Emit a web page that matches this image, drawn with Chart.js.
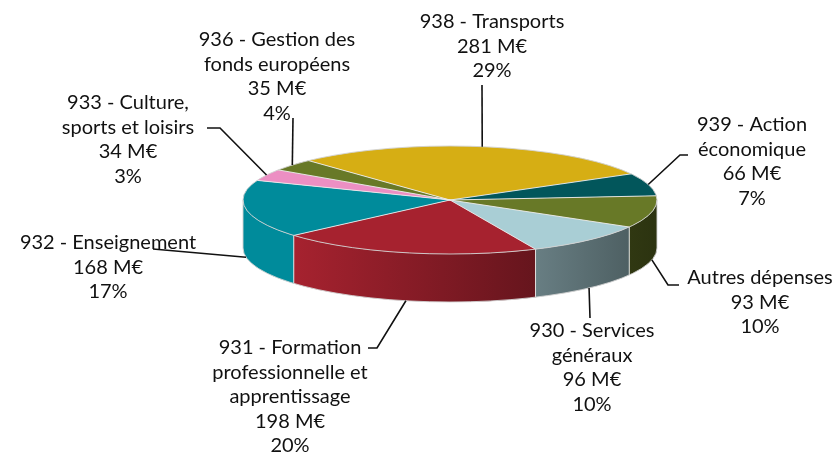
<!DOCTYPE html>
<html>
<head>
<meta charset="utf-8">
<script src="https://cdn.jsdelivr.net/npm/chart.js@4.4.1/dist/chart.umd.min.js"></script>
<style>
  html, body { margin: 0; padding: 0; background: #fff; }
  #wrap { width: 839px; height: 455px; }
</style>
</head>
<body>
<div id="wrap"><canvas id="pieCanvas"></canvas></div>
<script>
// data, clockwise from the "Services généraux" slice
const labelLines = [
    ['930 - Services', 'généraux'],
    ['931 - Formation', 'professionnelle et', 'apprentissage'],
    ['932 - Enseignement'],
    ['933 - Culture,', 'sports et loisirs'],
    ['936 - Gestion des', 'fonds européens'],
    ['938 - Transports'],
    ['939 - Action', 'économique'],
    ['Autres dépenses']
];
const dataPie = [96, 198, 168, 34, 35, 281, 66, 93];
const percentPie = ['10%', '20%', '17%', '3%', '4%', '29%', '7%', '10%'];
const colorPie = ['#a9ced5', '#a6222f', '#008b9b', '#ec8fc3', '#687927', '#d6ae14', '#02565b', '#687927'];

// where each label block sits and how its leader line bends
const labelLayout = [
    { x: 592, y: 331, bend: [[590, 318]] },
    { x: 290, y: 348, bend: [[377, 348], [368, 348]] },
    { x: 108, y: 243, bend: [[153, 249]] },
    { x: 128, y: 103, bend: [[220, 128], [207, 128]] },
    { x: 277, y: 40, bend: [[293, 118]] },
    { x: 492, y: 22, bend: [[482, 85]] },
    { x: 752, y: 125, bend: [[680, 155], [688, 155]] },
    { x: 760, y: 278, bend: [[668, 285], [679, 285]] }
];

// ellipse used for the tilted pie
const CX = 450, CY = 200, RX = 207, RY = 54, DEPTH = 48;

function shade(hex, f) {
    const n = parseInt(hex.slice(1), 16);
    const r = Math.round(((n >> 16) & 255) * f);
    const g = Math.round(((n >> 8) & 255) * f);
    const b = Math.round((n & 255) * f);
    return 'rgb(' + r + ',' + g + ',' + b + ')';
}
function light(x) {
    const t = Math.min(1, Math.max(0, (x - 293) / 364));
    return 1 - 0.58 * t;
}

const pie3d = {
    id: 'pie3d',
    beforeDatasetsDraw(chart) {
        const ctx = chart.ctx;
        const arcs = chart.getDatasetMeta(0).data;
        const a0 = arcs[0];
        // side walls (front half only)
        arcs.forEach((a, i) => {
            const s = a.startAngle, e = a.endAngle;
            for (let k = -1; k <= 2; k++) {
                const lo = Math.max(s, 2 * Math.PI * k);
                const hi = Math.min(e, 2 * Math.PI * k + Math.PI);
                if (hi <= lo) continue;
                const xa = CX + RX * Math.cos(lo), xb = CX + RX * Math.cos(hi);
                const grad = ctx.createLinearGradient(xb, 0, xa, 0);
                grad.addColorStop(0, shade(colorPie[i], light(xb)));
                grad.addColorStop(1, shade(colorPie[i], light(xa)));
                ctx.beginPath();
                ctx.ellipse(CX, CY, RX, RY, 0, lo, hi, false);
                ctx.ellipse(CX, CY + DEPTH, RX, RY, 0, hi, lo, true);
                ctx.closePath();
                ctx.fillStyle = grad;
                ctx.fill();
            }
        });
        // squash the library's round pie into the top face
        const k = RY / a0.outerRadius;
        ctx.save();
        ctx.translate(CX, CY);
        ctx.scale(RX / a0.outerRadius, k);
        ctx.translate(-a0.x, -a0.y);
    },
    afterDatasetsDraw(chart) {
        const ctx = chart.ctx;
        ctx.restore();
        const arcs = chart.getDatasetMeta(0).data;

        // thin light edges
        ctx.save();
        ctx.lineWidth = 1;
        ctx.strokeStyle = 'rgba(235,235,235,0.9)';
        arcs.forEach((a) => {
            const t = a.startAngle;
            const x = CX + RX * Math.cos(t), y = CY + RY * Math.sin(t);
            ctx.beginPath();
            ctx.moveTo(CX, CY);
            ctx.lineTo(x, y);
            if (Math.sin(t) > 0) ctx.lineTo(x, y + DEPTH);
            ctx.stroke();
        });
        ctx.strokeStyle = 'rgba(210,210,210,0.9)';
        ctx.beginPath();
        ctx.ellipse(CX, CY, RX, RY, 0, 0, Math.PI * 2);
        ctx.stroke();
        ctx.beginPath();
        ctx.ellipse(CX, CY + DEPTH, RX, RY, 0, 0, Math.PI);
        ctx.stroke();
        ctx.beginPath();
        ctx.moveTo(CX - RX, CY); ctx.lineTo(CX - RX, CY + DEPTH);
        ctx.moveTo(CX + RX, CY); ctx.lineTo(CX + RX, CY + DEPTH);
        ctx.stroke();
        ctx.restore();

        // labels and leader lines
        ctx.save();
        ctx.font = '20px Lato';
        ctx.fillStyle = '#111';
        ctx.textAlign = 'center';
        ctx.textBaseline = 'middle';
        ctx.strokeStyle = '#111';
        ctx.lineWidth = 1.6;
        arcs.forEach((a, i) => {
            const mid = (a.startAngle + a.endAngle) / 2;
            let ax = CX + RX * Math.cos(mid), ay = CY + RY * Math.sin(mid);
            if (Math.sin(mid) > 0) ay += DEPTH;
            const lay = labelLayout[i];
            ctx.beginPath();
            ctx.moveTo(ax, ay);
            lay.bend.forEach((p) => ctx.lineTo(p[0], p[1]));
            ctx.stroke();
            const lines = labelLines[i].concat([dataPie[i] + ' M€', percentPie[i]]);
            lines.forEach((txt, j) => ctx.fillText(txt, lay.x, lay.y + j * 24.5));
        });
        ctx.restore();
    }
};

const pieChart = document.getElementById('pieCanvas');
const graph = new Chart(pieChart, {
    type: 'pie',
    data: {
        labels: labelLines.map((l) => l.join(' ')),
        datasets: [{
            data: dataPie,
            backgroundColor: colorPie,
            borderWidth: 0
        }]
    },
    options: {
        responsive: true,
        maintainAspectRatio: false,
        animation: false,
        rotation: 120,
        layout: { padding: { left: 243, right: 182, top: 20, bottom: 21 } },
        plugins: {
            legend: { display: false },
            tooltip: { enabled: false }
        }
    },
    plugins: [pie3d]
});
</script>
</body>
</html>
